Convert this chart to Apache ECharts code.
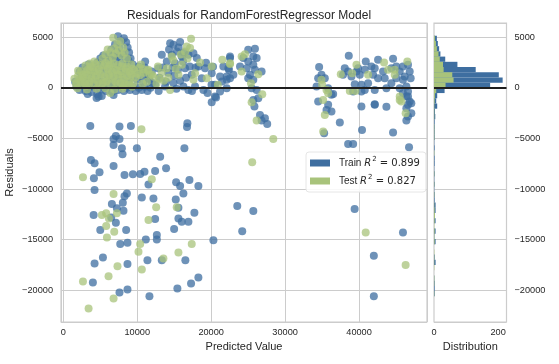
<!DOCTYPE html>
<html><head><meta charset="utf-8">
<script src="https://cdn.jsdelivr.net/npm/echarts@6/dist/echarts.min.js"></script>
<style>html,body{margin:0;padding:0;background:#fff}#c{width:559px;height:364px}</style>
</head><body><div id="c"></div>
<script>
const trainPoints = [
[1800,100],[2200,-200],[2600,200],[3000,-300],[3400,0],[3800,-400],[4200,100],[4600,-600],[5000,-200],[5400,0],[5800,-300],[6200,100],[6600,-400],[7000,0],[7400,-200],[7800,200],[8200,-300],[8600,0],[9000,-200],[9400,100],[9800,-300],[10200,0],[10600,-200],[11000,100],[11400,-300],[11800,0],
[4500,-1000],[5200,-800],[6800,-700],[3300,-600],[4770,-860],
[1600,600],[2000,400],[2400,900],[2800,500],[3200,1100],[3600,700],[4000,1300],[4400,500],[4800,1000],[5200,600],[5600,1400],[6000,800],[6400,1200],[6800,500],[7200,1000],[7600,1400],[8000,700],[8400,1200],[8800,500],[9200,1000],[9600,1500],[10000,800],[10400,1200],[10800,600],[11200,1300],[11600,800],[12000,500],
[2200,1600],[2600,2000],[3000,1800],[3400,2300],[3800,1600],[4200,2100],[4600,2500],[5000,1800],[5400,2300],[5800,2000],[6200,2600],[6600,1700],[7000,2200],[7400,1900],[7800,2400],[8200,1700],[8600,2200],[9000,1800],[9400,2300],[9800,1700],[10200,2100],[10600,1600],[11000,2000],[11400,1500],
[5000,2900],[5400,3200],[5800,2800],[6200,3300],[6500,3800],[6800,3100],[7000,4300],[7200,3600],[7400,5100],[7600,4000],[7800,4600],[8000,3400],[8200,4900],[8500,4500],[8700,4000],[8900,3500],[8400,3000],[7100,2800],[7500,3100],[8800,2700],[9100,2900],
[13320,3270],[14450,4420],[14900,4260],[15800,4520],[15350,3600],[14670,3270],[16020,3100],[16920,3270],[17600,3430],[18050,2940],[18270,2110],[19170,1950],[20070,1450],[21650,2110],[22550,2940],[21200,1120],[22100,1120],[20520,300],[21200,-360],[20520,-860],[20070,-1420],[14000,2600],[15120,2440],[16470,1950],[17370,1290],[18720,960],[17820,130],[16240,130],[14900,470],[13770,130],[12420,300],[11520,960],[11970,1610],[12870,1950],[11070,2600],[16920,-200],[18950,-200],[22100,-30],
[13000,1000],[13500,2000],[14200,1500],[14800,2000],[15500,1800],[16200,2600],[15000,1200],[15800,700],[16600,1000],[17100,2100],[17900,2000],[14300,3800],[15600,4000],[16300,3500],[13900,600],[12900,-300],[15300,-100],[17400,-300],
[19300,2480],[20250,2080],[20050,310],[21470,630],[22410,1800],[20660,-950],[19500,-500],
[22550,3100],[22320,1950],[22550,960],[23000,1290],[22100,790],[23900,2110],[24350,2940],[25010,3760],[25920,3860],[25700,3100],[26150,2940],[25010,2600],[25700,2280],[24800,1950],[25920,1780],[26820,1610],[25250,1290],[25010,960],[25700,790],[25470,-30],[26150,-200],[26370,-1020],[25700,-1190],[25850,-1850],[26600,-2670],[27270,-3000],[26820,-3230],[27580,-3560],
[34600,2050],[34470,960],[34920,1290],[35370,960],[34250,130],[35820,-30],[36270,-690],[34470,-1360],[36500,-600],[35820,-1680],[36270,-2340],[35600,-2180],[37400,-3430],[35280,-4490],
[38610,3170],[38070,1950],[38520,1610],[37840,1290],[38970,1120],[39650,1610],[40100,1290],[39870,1950],[40910,2600],[40770,1780],[41670,2110],[42120,1950],[42570,2770],[41900,1290],[42570,960],[43250,1610],[43470,960],[44600,2870],[44370,1950],[45040,2110],[45500,1610],[45940,2110],[46620,2280],[46850,1610],[46170,1120],[46980,960],[45040,960],[44370,460],[39420,360],[40320,300],[41220,460],[42120,-200],[40770,-200],[43700,-30],[45500,-30],[46400,130],[46620,-360],[39200,-360],[40320,-360],[46400,-860],[46850,-1360],[46620,-1680],[42120,-1610],[45940,790],
[40320,-1850],[40400,-4160],[42120,-1680],[38520,-5540],[39200,-5540],[44600,-4420],[46760,-5870],[45940,-530],[46620,-860],[47070,-1520],[46400,-2010],[47070,-2510],[46620,-2840],[46400,-3230],[43700,-1870],
[39400,-11980],[45940,-14290],[42000,-16600],[42000,-20600],
[3650,-3760],[7600,-3830],[9140,-3760],[16780,-3500],[16730,-3880],[7110,-4750],[6800,-5050],[7600,-5050],[6800,-5640],[7920,-5970],[8010,-6570],[9950,-5970],[16380,-5970],[3740,-7130],[4230,-7460],[6800,-7720],[4900,-8350],[8280,-8610],[9410,-8550],[10400,-8510],[10980,-8280],[12420,-8220],[13100,-6800],[13900,-7950],[4140,-8940],[11520,-9540],[15260,-9340],[15800,-9700],[17060,-9110],[18270,-9700],[4230,-10100],[8600,-10430],[16240,-10430],[10620,-10830],[12190,-10930],[15210,-11030],[8280,-10700],[6570,-11480],[8050,-11350],[7250,-11900],[8140,-12140],[15570,-11840],[17730,-12340],[4100,-12570],[6480,-12800],[7110,-13330],[12420,-12970],[15570,-12900],[16020,-13240],[16920,-13240],[5000,-14060],[8500,-14060],[12650,-14550],[14990,-13960],[20300,-15050],[23530,-11680],[25700,-12180],[24200,-14160],[7700,-15440],[8680,-15310],[11160,-14980],[12650,-14980],
[5360,-16760],[4230,-17360],[8680,-17420],[11380,-17030],[13320,-17030],[16510,-17030],[4000,-19240],[7600,-20230],[8680,-19930],[11650,-20590],[15430,-19830],[17280,-19340],[18270,-18740]
];
const testPoints = [
[1800,500],[2200,900],[2500,300],[2700,1300],[3000,700],[3300,1800],[3500,400],[3800,1200],[4000,2000],[4300,800],[4600,1600],[4900,300],[5200,1000],[5500,2200],[5800,600],[6100,1400],[6400,2300],[6700,900],[7000,1800],[7300,400],[7600,1300],[7900,2100],[8200,800],[8500,1600],[8800,300],[9100,1100],[9400,1900],[10000,1400],[10300,2000],[10900,1500],[3600,2400],[4200,2600],[2000,1700],[1500,900],[6350,-500],[2600,1000],[3100,200],[8000,-100],
[1900,-50],[3200,-150],[4500,-100],[5700,-50],[6900,-150],[8100,150],[9300,100],
[1700,350],[2300,550],[2900,450],[3500,650],[4100,400],[4700,600],[5300,450],[5900,650],[6500,400],[7100,600],[7700,500],[8300,350],[8900,600],[9500,450],[10700,400],[11300,600],
[2000,1200],[2600,1050],[3200,1300],[3800,950],[4400,1200],[5000,1350],[5600,1050],[6200,1250],[6800,1100],[7400,1300],[8000,1000],[8600,1200],[9200,1350],[9800,1050],[10400,1250],[11700,1300],
[2400,1650],[3000,1500],[3600,1750],[4200,1600],[4800,1850],[5400,1700],[6000,1900],[6600,1600],[7200,1750],[7800,1650],[8400,1900],[9000,1600],[9600,1750],[10800,1850],[11400,1700],
[3000,2200],[3700,2100],[4400,2350],[5000,2250],[5700,2450],[6200,2100],[6800,2400],[7400,2250],[8000,2400],[8600,2100],[9200,2300],[10500,2300],
[5300,2900],[5700,3300],[6100,2700],[6400,3500],[6700,3000],[6900,3900],[7100,3400],[7300,4300],[7500,3700],[7700,4600],[7900,3200],[8100,4000],[8300,3500],[8600,2900],[6000,3800],[6750,4950],
[17280,4850],[16700,4090],[16470,3600],[17150,3930],[14670,3100],[16020,2280],[17820,1450],[20070,2110],[21510,2770],[22550,2350],[19400,960],[14450,-200],[11970,1290],[14000,1950],[15570,1290],[17600,790],[11500,1800],[12200,1100],[12800,2100],[13300,1500],[13600,700],[12600,400],[18500,2500],[20900,300],
[14900,2700],[15900,3300],[16800,2900],[15200,1900],[13000,900],[14200,1000],
[22550,2440],[24120,3100],[24570,3330],[24120,1610],[26370,1350],[25380,460],[26910,-630],[25470,-1420],
[34920,790],[35010,300],[35600,-200],[35140,-1190],[35820,-530],[35370,-2670],[35150,-4320],
[37530,1350],[39650,2280],[39060,1450],[41220,1290],[43380,2510],[43920,1780],[44820,1780],[46530,2600],[44820,1290],[38750,-300],[39510,-300],[45500,-860],[45720,-1360],[45500,-1190],[46300,-2510],
[40900,-14290],[46300,-17500],
[10570,-4090],[2660,-8840],[11970,-9040],[6800,-10490],[12560,-11810],[15340,-11810],[5220,-12570],[5800,-12400],[6170,-12900],[7250,-12400],[11520,-13070],[5800,-13660],[5900,-14780],[6890,-14220],[10400,-15440],[17370,-15440],[28400,-5050],[25550,-7360],[26150,-3230],
[2660,-19140],[3420,-21810],[6120,-18610],[7330,-17620],[6800,-20820],[10170,-16200],[10620,-17950],[13540,-16860],[15570,-16270]
];
// histogram of residuals (shared bin edges), counts per bin, bottom to top
const histStart = -20600;
const histBinWidth = 515;
const trainCounts = [2,2,2,1,0,0,5,2,0,0,5,1,5,0,5,2,5,5,2,2,1,2,1,2,1,2,2,1,2,1,2,2,2,2,4,3,10,7,10,33,175,214,202,130,73,35,20,16,12,9];
const testCounts  = [1,0,1,1,0,1,1,1,1,0,2,1,2,1,2,3,2,1,0,1,0,1,0,1,0,0,0,1,0,0,1,1,1,0,1,1,1,2,3,7,36,61,57,30,28,18,14,9,6,3];
const trainR2 = '0.899';
const testR2 = '0.827';
const titleText = 'Residuals for RandomForestRegressor Model';

const FONT = "'Liberation Sans', Arial, sans-serif";
const TXT = '#262626';
const GRIDC = '#cccccc';
const TRAIN_C = '#3e6ea0';
const TEST_C = '#a8c37b';
const XMIN = -311, XMAX = 49190, YMIN = -23140, YMAX = 6410;

function histData(counts){
  return counts.map((c,i)=>[c, histStart + i*histBinWidth, histStart + (i+1)*histBinWidth]);
}
function renderBar(params, api){
  const c = api.value(0), y0 = api.value(1), y1 = api.value(2);
  const p0 = api.coord([0, y1]);
  const p1 = api.coord([c, y0]);
  return {type:'rect', shape:{x:p0[0], y:p0[1], width:p1[0]-p0[0], height:p1[1]-p0[1]}, style:{fill: api.visual('color')}};
}
const fmt = v => (v < 0 ? '\u2212' + Math.abs(v) : String(v));
const labelStyle = {color: TXT, fontFamily: FONT, fontSize: 9.2};
const nameStyle = {color: TXT, fontFamily: FONT, fontSize: 11};

const chart = echarts.init(document.getElementById('c'), null, {renderer:'canvas'});
chart.setOption({
  animation: false,
  backgroundColor: '#fff',
  title: {text: titleText, left: 244, top: 5, textAlign: 'center',
    textStyle: {color: TXT, fontFamily: FONT, fontSize: 12, fontWeight: 'normal'}},
  grid: [
    {left: 61, top: 23, width: 366, height: 299, show: true, borderColor: GRIDC, borderWidth: 1.2, backgroundColor: 'transparent', containLabel: false, outerBoundsMode: 'none'},
    {left: 434, top: 23, width: 72.5, height: 299, show: true, borderColor: GRIDC, borderWidth: 1.2, backgroundColor: 'transparent', containLabel: false, outerBoundsMode: 'none'}
  ],
  xAxis: [
    {gridIndex: 0, type: 'value', min: XMIN, max: XMAX, splitNumber: 5,
     axisLine: {show: false}, axisTick: {show: false},
     axisLabel: Object.assign({margin: 6, showMinLabel: false, showMaxLabel: false, formatter: fmt}, labelStyle),
     splitLine: {show: true, lineStyle: {color: GRIDC, width: 1}},
     name: 'Predicted Value', nameLocation: 'middle', nameGap: 19, nameMoveOverlap: false, nameTextStyle: nameStyle},
    {gridIndex: 1, type: 'value', min: 0, max: 226, interval: 200,
     axisLine: {show: false}, axisTick: {show: false},
     axisLabel: Object.assign({margin: 6, showMaxLabel: false, formatter: fmt}, labelStyle),
     splitLine: {show: false},
     name: 'Distribution', nameLocation: 'middle', nameGap: 19, nameMoveOverlap: false, nameTextStyle: nameStyle}
  ],
  yAxis: [
    {gridIndex: 0, type: 'value', min: YMIN, max: YMAX, splitNumber: 5,
     axisLine: {show: false}, axisTick: {show: false},
     axisLabel: Object.assign({margin: 8, showMinLabel: false, showMaxLabel: false, formatter: fmt}, labelStyle),
     splitLine: {show: true, lineStyle: {color: GRIDC, width: 1}},
     name: 'Residuals', nameLocation: 'middle', nameGap: 46, nameMoveOverlap: false, nameTextStyle: nameStyle},
    {gridIndex: 1, type: 'value', min: YMIN, max: YMAX, splitNumber: 5, position: 'right',
     axisLine: {show: false}, axisTick: {show: false},
     axisLabel: Object.assign({margin: 8, showMinLabel: false, showMaxLabel: false, formatter: fmt}, labelStyle),
     splitLine: {show: true, lineStyle: {color: GRIDC, width: 1}}}
  ],
  legend: {
    left: 306, top: 152, orient: 'vertical', icon: 'rect', itemWidth: 20, itemHeight: 7, itemGap: 4,
    padding: [4, 6, 4, 4], backgroundColor: 'rgba(255,255,255,0.85)', borderColor: '#e6e6e6', borderWidth: 1, borderRadius: 3,
    data: [{name: 'Train', itemStyle: {opacity: 1, color: TRAIN_C}}, {name: 'Test', itemStyle: {opacity: 1, color: TEST_C}}],
    formatter: n => n === 'Train'
      ? '{n|Train }{i|R}{s|2}{m| = ' + trainR2 + '}'
      : '{n|Test }{i|R}{s|2}{m| = ' + testR2 + '}',
    textStyle: {color: TXT, lineHeight: 14, rich: {
      n: {fontFamily: FONT, fontSize: 10, color: TXT, padding: [0,0,0,4]},
      i: {fontFamily: "'DejaVu Sans'", fontStyle: 'italic', fontSize: 10, color: TXT},
      s: {fontFamily: "'DejaVu Sans'", fontSize: 7, color: TXT, verticalAlign: 'top', padding: [0,0,0,1]},
      m: {fontFamily: "'DejaVu Sans'", fontSize: 10, color: TXT}
    }}
  },
  series: [
    {name: 'Train', type: 'scatter', xAxisIndex: 0, yAxisIndex: 0, data: trainPoints, symbolSize: 8,
     itemStyle: {color: TRAIN_C, opacity: 0.75}, z: 2},
    {name: 'Test', type: 'scatter', xAxisIndex: 0, yAxisIndex: 0, data: testPoints, symbolSize: 8,
     itemStyle: {color: TEST_C, opacity: 0.75}, z: 3},
    {name: 'Train hist', type: 'custom', xAxisIndex: 1, yAxisIndex: 1, data: histData(trainCounts),
     renderItem: renderBar, itemStyle: {color: TRAIN_C}, encode: {x: 0, y: [1, 2]}, z: 2},
    {name: 'Test hist', type: 'custom', xAxisIndex: 1, yAxisIndex: 1, data: histData(testCounts),
     renderItem: renderBar, itemStyle: {color: TEST_C}, encode: {x: 0, y: [1, 2]}, z: 3},
    {name: 'zero0', type: 'scatter', xAxisIndex: 0, yAxisIndex: 0, data: [], z: 10,
     markLine: {silent: true, symbol: 'none', label: {show: false}, animation: false,
       lineStyle: {color: '#1e1e1e', width: 2, type: 'solid'}, data: [{yAxis: 0}]}},
    {name: 'zero1', type: 'scatter', xAxisIndex: 1, yAxisIndex: 1, data: [], z: 10,
     markLine: {silent: true, symbol: 'none', label: {show: false}, animation: false,
       lineStyle: {color: '#1e1e1e', width: 2, type: 'solid'}, data: [{yAxis: 0}]}}
  ]
});
</script></body></html>
